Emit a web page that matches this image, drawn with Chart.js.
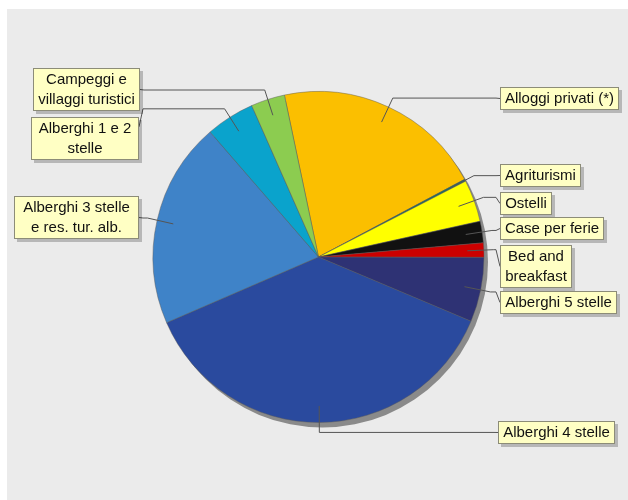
<!DOCTYPE html>
<html>
<head>
<meta charset="utf-8">
<script src="https://cdn.jsdelivr.net/npm/chart.js@4.4.1/dist/chart.umd.min.js"></script>
<style>
  html, body { margin: 0; padding: 0; background: #fff; }
  canvas { display: block; }
</style>
</head>
<body>
<canvas id="pie" width="628" height="500"></canvas>
<script>
// categories, clockwise from the top of the pie
const categories = [
  'Alloggi privati (*)',
  'Agriturismi',
  'Ostelli',
  'Case per ferie',
  'Bed and breakfast',
  'Alberghi 5 stelle',
  'Alberghi 4 stelle',
  'Alberghi 3 stelle e res. tur. alb.',
  'Alberghi 1 e 2 stelle',
  'Campeggi e villaggi turistici'
];

// label text as shown in the boxes (one entry per line)
const labelLines = [
  ['Alloggi privati (*)'],
  ['Agriturismi'],
  ['Ostelli'],
  ['Case per ferie'],
  ['Bed and', 'breakfast'],
  ['Alberghi 5 stelle'],
  ['Alberghi 4 stelle'],
  ['Alberghi 3 stelle', 'e res. tur. alb.'],
  ['Alberghi 1 e 2', 'stelle'],
  ['Campeggi e', 'villaggi turistici']
];

// share of each category (%)
const shares = [20.5, 0.2, 4.1, 2.1, 1.4, 6.3, 37.1, 20.1, 4.75, 3.3];

const sliceColors = [
  '#fbbf00', '#1f6f5c', '#ffff00', '#111111', '#cc0000',
  '#2e3274', '#2a4a9e', '#3f83c8', '#0aa3cc', '#8ccc50'
];

// label box placement: side, the box edge next to the pie, top, min width
const boxPlace = [
  { side: 'r', x: 500, y: 87 },
  { side: 'r', x: 500, y: 164 },
  { side: 'r', x: 500, y: 192 },
  { side: 'r', x: 500, y: 217 },
  { side: 'r', x: 500, y: 245 },
  { side: 'r', x: 500, y: 291 },
  { side: 'r', x: 498, y: 421 },
  { side: 'l', x: 139, y: 196, minW: 125 },
  { side: 'l', x: 139, y: 117, minW: 108 },
  { side: 'l', x: 140, y: 68 }
];

const LABEL_FONT = '15px "Liberation Sans", Arial, sans-serif';

const panelBg = {
  id: 'panelBg',
  beforeDraw(chart) {
    const ctx = chart.ctx;
    ctx.save();
    ctx.fillStyle = '#ffffff';
    ctx.fillRect(0, 0, chart.width, chart.height);
    ctx.fillStyle = '#ebebeb';
    ctx.fillRect(7, 9, chart.width - 7, chart.height - 9);
    ctx.restore();
  }
};

const pieShadow = {
  id: 'pieShadow',
  beforeDatasetsDraw(chart) {
    const arc = chart.getDatasetMeta(0).data[0];
    if (!arc) return;
    const { x, y, outerRadius } = arc.getProps(['x', 'y', 'outerRadius'], true);
    const ctx = chart.ctx;
    ctx.save();
    ctx.fillStyle = '#8a8a8a';
    ctx.beginPath();
    ctx.arc(x + 4, y + 5, outerRadius, 0, Math.PI * 2);
    ctx.fill();
    ctx.restore();
  }
};

const boxLabels = {
  id: 'boxLabels',
  afterDatasetsDraw(chart) {
    const ctx = chart.ctx;
    const arcs = chart.getDatasetMeta(0).data;
    ctx.save();
    ctx.font = LABEL_FONT;
    arcs.forEach((arc, i) => {
      const p = arc.getProps(['x', 'y', 'startAngle', 'endAngle', 'outerRadius'], true);
      const mid = (p.startAngle + p.endAngle) / 2;
      const ax = p.x + Math.cos(mid) * p.outerRadius * 0.9;
      const ay = p.y + Math.sin(mid) * p.outerRadius * 0.9;
      const ex = p.x + Math.cos(mid) * p.outerRadius * 1.06;
      const ey = p.y + Math.sin(mid) * p.outerRadius * 1.06;

      const lines = labelLines[i];
      const place = boxPlace[i];
      const tw = Math.max(...lines.map(t => ctx.measureText(t).width));
      const w = Math.max(Math.round(tw + 10), place.minW || 0);
      const h = lines.length * 20 + 3;
      const left = place.side === 'r' ? place.x : place.x - w;
      const top = place.y;
      const edgeX = place.side === 'r' ? left : left + w;
      const midY = top + h / 2;
      const cy = Math.min(Math.max(midY, ey - 12), ey + 18);
      const hx = edgeX + (place.side === 'r' ? -4 : 4);

      // leader line
      ctx.strokeStyle = '#555555';
      ctx.lineWidth = 1;
      ctx.beginPath();
      ctx.moveTo(ax, ay);
      ctx.lineTo(ex, ey);
      ctx.lineTo(hx, ey);
      ctx.lineTo(edgeX, cy);
      ctx.stroke();

      // box with drop shadow
      ctx.fillStyle = 'rgba(0,0,0,0.22)';
      ctx.fillRect(left + 3, top + 3, w, h);
      ctx.fillStyle = '#ffffc4';
      ctx.fillRect(left, top, w, h);
      ctx.strokeStyle = '#8c8c78';
      ctx.strokeRect(left + 0.5, top + 0.5, w - 1, h - 1);

      ctx.fillStyle = '#111111';
      ctx.textAlign = 'center';
      ctx.textBaseline = 'middle';
      lines.forEach((t, k) => {
        ctx.fillText(t, left + w / 2, top + 12 + k * 20);
      });
    });
    ctx.restore();
  }
};

new Chart(document.getElementById('pie').getContext('2d'), {
  type: 'pie',
  data: {
    labels: categories,
    datasets: [{
      data: shares,
      backgroundColor: sliceColors,
      borderColor: 'rgba(90,90,90,0.45)',
      borderWidth: 1
    }]
  },
  options: {
    responsive: false,
    animation: false,
    rotation: -11.9,
    layout: { padding: { left: 152, right: 143, top: 91, bottom: 77 } },
    plugins: {
      legend: { display: false },
      tooltip: { enabled: false }
    }
  },
  plugins: [panelBg, pieShadow, boxLabels]
});
</script>
</body>
</html>
